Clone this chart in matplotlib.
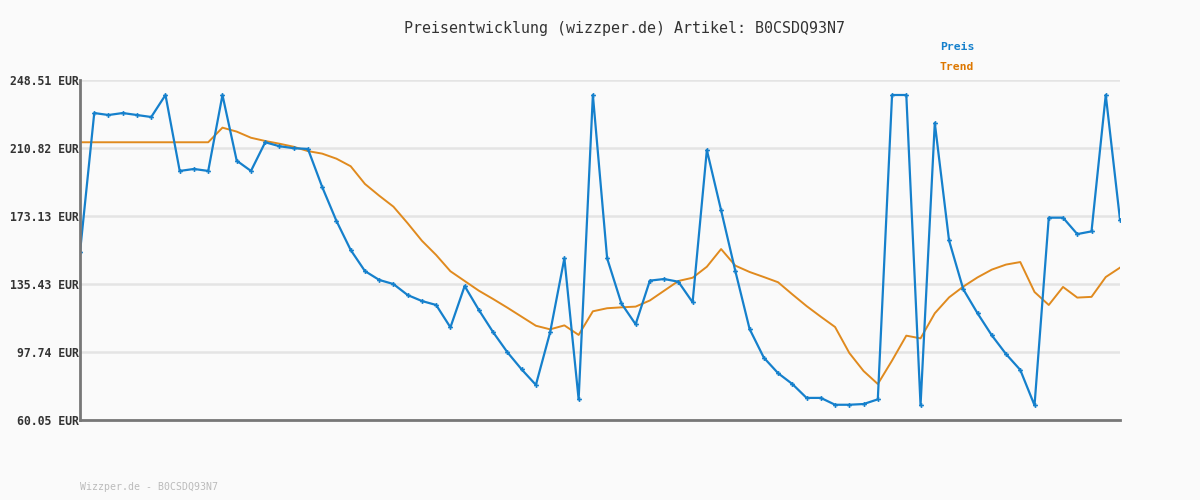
import matplotlib.pyplot as plt

# Preisverlauf
preis = [153.0, 230.2, 229.1, 230.2, 229.1, 228.0, 240.2, 198.1, 199.2, 198.1,
         240.2, 203.8, 198.1, 214.0, 211.8, 210.7, 210.3, 189.2, 170.4, 154.3,
         142.6, 137.7, 135.4, 129.3, 126.0, 123.8, 111.4, 134.3, 121.0, 108.7,
         97.6, 88.1, 79.5, 108.7, 149.7, 71.5, 240.2, 149.7, 124.7, 113.1,
         137.3, 138.2, 136.7, 125.3, 209.7, 176.3, 142.6, 110.5, 94.6, 86.0,
         80.0, 72.3, 72.3, 68.5, 68.5, 68.9, 71.5, 240.2, 240.2, 68.2,
         224.7, 159.6, 132.5, 119.2, 107.0, 96.6, 87.8, 68.2, 172.2, 172.2,
         163.1, 164.6, 240.2, 171.1]

trend = [214.0, 214.0, 214.0, 214.0, 214.0, 214.0, 214.0, 214.0, 214.0, 214.0,
         222.1, 219.9, 216.5, 214.7, 213.2, 211.5, 209.1, 207.7, 204.9, 200.7,
         190.9, 184.4, 178.3, 169.1, 159.4, 151.5, 142.5, 137.1, 131.7, 127.1,
         122.3, 117.3, 112.3, 110.3, 112.5, 107.2, 120.3, 122.0, 122.5, 122.9,
         126.3, 131.7, 137.1, 138.9, 145.0, 154.8, 145.6, 142.1, 139.3, 136.4,
         129.7, 123.2, 117.3, 111.6, 97.2, 87.2, 80.0, 93.0, 106.8, 105.3,
         119.2, 128.0, 134.0, 139.1, 143.4, 146.2, 147.6, 131.0, 123.8, 133.8,
         127.9, 128.3, 139.3, 144.5]

y_ticks = [60.05, 97.74, 135.43, 173.13, 210.82, 248.51]
y_labels = ['60.05 EUR', '97.74 EUR', '135.43 EUR', '173.13 EUR', '210.82 EUR', '248.51 EUR']

bg = '#fafafa'
blue = '#1580cc'
orange = '#e08a1e'

fig = plt.figure(figsize=(12, 5), dpi=100, facecolor=bg)
ax = fig.add_axes([80 / 1200, 1 - 420 / 500, 1040 / 1200, 340 / 500])
ax.set_facecolor(bg)

x = list(range(len(preis)))
ax.plot(x, trend, color=orange, linewidth=1.4, zorder=3)
ax.plot(x, preis, color=blue, linewidth=1.6, marker='P', markersize=3.5,
        markeredgewidth=0, zorder=4)

ax.set_xlim(0, len(preis) - 1)
ax.set_ylim(y_ticks[0], y_ticks[-1])
ax.set_yticks(y_ticks)
ax.set_yticklabels(y_labels, family='DejaVu Sans Mono', fontweight='bold',
                   fontsize=8.3, color='#333333')
ax.set_xticks([])
ax.tick_params(axis='y', length=0, pad=1)
ax.grid(axis='y', color='#e4e4e4', linewidth=1.8, zorder=0)

for s in ['top', 'right']:
    ax.spines[s].set_visible(False)
for s in ['left', 'bottom']:
    ax.spines[s].set_color('#777777')
    ax.spines[s].set_linewidth(2)
    ax.spines[s].set_zorder(5)

fig.text(0.52, 1 - 28 / 500, 'Preisentwicklung (wizzper.de) Artikel: B0CSDQ93N7',
         ha='center', va='center', family='DejaVu Sans Mono', fontsize=10.8,
         color='#333333')
fig.text(940 / 1200, 1 - 47 / 500, 'Preis', ha='left', va='center',
         family='DejaVu Sans Mono', fontweight='bold', fontsize=8.2, color=blue)
fig.text(940 / 1200, 1 - 67 / 500, 'Trend', ha='left', va='center',
         family='DejaVu Sans Mono', fontweight='bold', fontsize=8.2, color='#dd7700')
fig.text(80 / 1200, 1 - 487 / 500, 'Wizzper.de - B0CSDQ93N7', ha='left', va='center',
         family='DejaVu Sans Mono', fontsize=7.1, color='#bbbbbb')

fig.savefig('out.png', dpi=100, facecolor=bg)
